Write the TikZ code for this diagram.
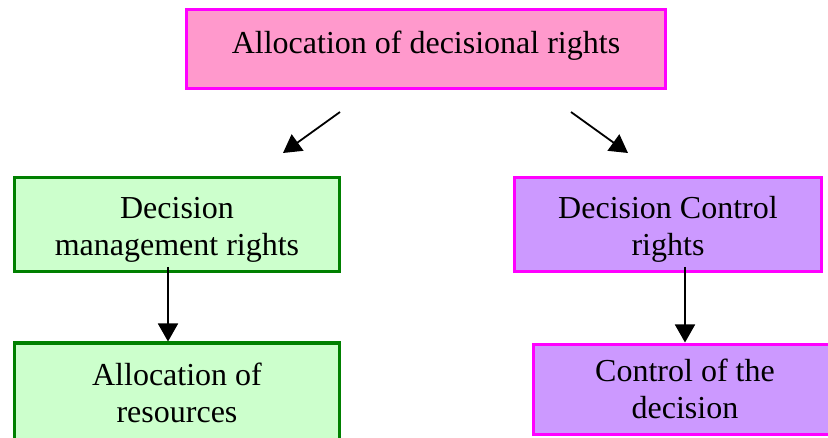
\documentclass[tikz,border=0pt]{standalone}
\usepackage{fontspec}
\setmainfont{Liberation Serif}
\usetikzlibrary{arrows.meta}
\definecolor{boxpink}{HTML}{FF99CC}
\definecolor{boxgreen}{HTML}{CCFFCC}
\definecolor{boxviolet}{HTML}{CC99FF}
\definecolor{edgegreen}{HTML}{008000}
\definecolor{edgemagenta}{HTML}{FF00FF}

\begin{document}
\begin{tikzpicture}[x=1pt,y=1pt,
  box/.style={draw,line width=3pt,align=center,inner sep=0pt,
    font=\fontsize{32}{37}\selectfont},
  rootbox/.style={box,draw=edgemagenta,fill=boxpink,minimum width=479pt,minimum height=79pt,text depth=14pt},
  mgmtbox/.style={box,draw=edgegreen,fill=boxgreen,minimum width=325pt},
  ctrlbox/.style={box,draw=edgemagenta,fill=boxviolet},
  arr/.style={-{Triangle[length=18pt,width=20pt]},line width=1.8pt}]
\newcommand{\picwd}{828}
\newcommand{\picht}{437}
\newcommand{\droptext}[1]{\raisebox{-5pt}[\height][\depth]{\parbox{300pt}{\centering #1}}}
\useasboundingbox (0,0) rectangle (\picwd,\picht);
\clip (0,0) rectangle (\picwd,\picht);

\node[rootbox] (top) at (426,388) {Allocation of decisional rights};
\node[mgmtbox,minimum height=94pt] (dm) at (177,212.5) {\droptext{Decision\\management rights}};
\node[ctrlbox,minimum width=307pt,minimum height=94pt] (dc) at (668,212.5) {\droptext{Decision Control\\rights}};
\node[mgmtbox,minimum height=100pt] (ar) at (177,44) {Allocation of\\resources};
\node[ctrlbox,minimum width=303pt,minimum height=90pt] (cd) at (685,48) {Control of the\\decision};

\coordinate (l1) at (340,325);
\coordinate (l2) at (283,284);
\coordinate (r1) at (571,325);
\coordinate (r2) at (628,284);

\draw[arr] (l1) -- (l2);
\draw[arr] (r1) -- (r2);
\draw[arr] ([xshift=-9pt,yshift=6pt]dm.south) -- ([xshift=-9pt]ar.north);
\draw[arr] ([yshift=6pt]dc.south -| cd.north) -- (cd.north);
\end{tikzpicture}
\end{document}
